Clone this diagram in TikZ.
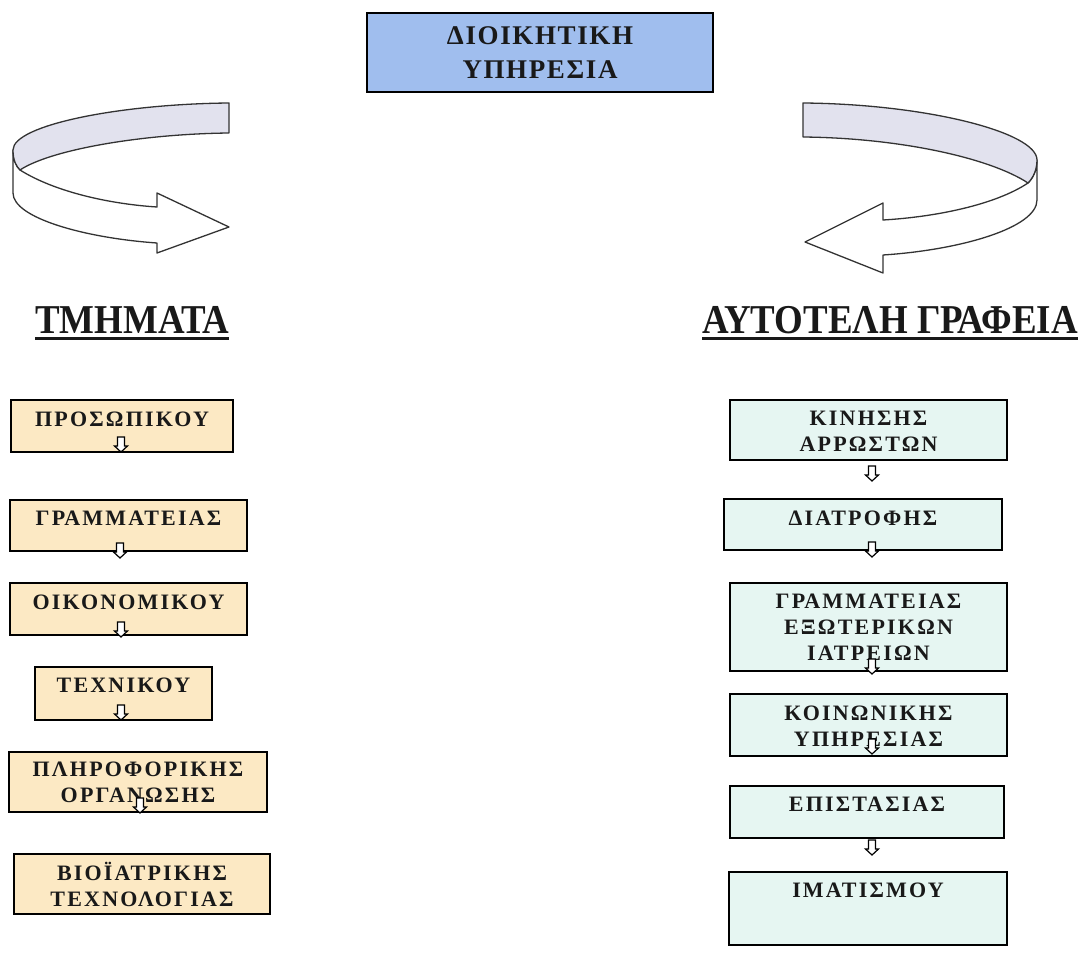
\documentclass[tikz,border=0pt]{standalone}
\usepackage{fontspec}
\setmainfont{Liberation Serif}
\newfontfamily\boxfont[LetterSpace=10]{Liberation Serif}
\newfontfamily\topfont[LetterSpace=6]{Liberation Serif}
\newfontfamily\headfont[FakeStretch=0.9]{Liberation Serif}
\definecolor{topfill}{RGB}{160,190,238}
\definecolor{peach}{RGB}{252,233,196}
\definecolor{mint}{RGB}{230,246,242}
\definecolor{band}{RGB}{226,226,238}
\begin{document}
\begin{tikzpicture}[x=1pt,y=-1pt,
  box/.style={draw=black, line width=1.6pt, rectangle, inner sep=0pt},
  lbox/.style={box, fill=peach},
  rbox/.style={box, fill=mint},
  btext/.style={font={\boxfont\bfseries\fontsize{22}{26}\selectfont}, align=center, inner sep=0pt, text=black!90},
  headtext/.style={font={\headfont\bfseries\fontsize{41}{44}\selectfont}, inner sep=0pt, text=black!90},
  ribbon/.style={draw=black!80, line width=1.3pt, line join=round},
  pics/darr/.style={code={
    \draw[line width=1.2pt, fill=white, line join=miter]
      (-3.5,0) -- (-3.5,9) -- (-6.5,9) -- (0,15) -- (6.5,9) -- (3.5,9) -- (3.5,0) -- cycle;}}
]
\useasboundingbox (0,0) rectangle (1082,968);

% administration box
\node[box, fill=topfill, minimum width=346pt, minimum height=79pt,
      font={\topfont\bfseries\fontsize{27}{34}\selectfont}, align=center, text=black!90]
  (admin) at (540,52.5) {ΔΙΟΙΚΗΤΙΚΗ\\ΥΠΗΡΕΣΙΑ};

% left ribbon arrow
\draw[ribbon, fill=white]
  (20,170) .. controls (55,192) and (110,204) .. (157,207) -- (157,193) -- (229,227)
  -- (157,253) -- (157,243) .. controls (85,238) and (13,218) .. (13,193)
  -- (13,150) .. controls (13,160) and (16,166) .. (20,170) -- cycle;
\draw[ribbon, fill=band]
  (229,103) .. controls (120,104) and (13,125) .. (13,150)
  .. controls (13,160) and (16,166) .. (20,170)
  .. controls (50,150) and (140,134) .. (229,133) -- cycle;

% right ribbon arrow
\draw[ribbon, fill=white]
  (1028,183) .. controls (995,205) and (935,217) .. (883,220) -- (883,203) -- (805,242)
  -- (883,273) -- (883,255) .. controls (960,250) and (1037,228) .. (1037,200)
  -- (1037,160) .. controls (1037,170) and (1033,178) .. (1028,183) -- cycle;
\draw[ribbon, fill=band]
  (803,103) .. controls (925,104) and (1037,132) .. (1037,160)
  .. controls (1037,170) and (1033,178) .. (1028,183)
  .. controls (990,158) and (900,138) .. (803,137) -- cycle;

% headings
\node[headtext, anchor=base west] (hl) at (35,334) {ΤΜΗΜΑΤΑ};
\node[headtext, anchor=base east] (hr) at (1078,334) {ΑΥΤΟΤΕΛΗ ΓΡΑΦΕΙΑ};
\draw[line width=3pt, black!90] ([yshift=-5pt]hl.base west) -- ([yshift=-5pt]hl.base east);
\draw[line width=3pt, black!90] ([yshift=-5pt]hr.base west) -- ([yshift=-5pt]hr.base east);

% departments
\node[lbox, minimum width=222pt, minimum height=52pt] (l1) at (122,426) {};
\node[btext] (l1t) at (122,419) {ΠΡΟΣΩΠΙΚΟΥ};
\pic (l1a) at (121,437) {darr};

\node[lbox, minimum width=237pt, minimum height=51pt] (l2) at (128.5,525.5) {};
\node[btext] (l2t) at (128.5,518) {ΓΡΑΜΜΑΤΕΙΑΣ};
\pic (l2a) at (120,543) {darr};

\node[lbox, minimum width=237pt, minimum height=52pt] (l3) at (128.5,609) {};
\node[btext] (l3t) at (128.5,602) {ΟΙΚΟΝΟΜΙΚΟΥ};
\pic (l3a) at (121,622) {darr};

\node[lbox, minimum width=177pt, minimum height=53pt] (l4) at (123.5,693.5) {};
\node[btext] (l4t) at (123.5,685) {ΤΕΧΝΙΚΟΥ};
\pic (l4a) at (121,705) {darr};

\node[lbox, minimum width=258pt, minimum height=60pt] (l5) at (138,782) {};
\node[btext] (l5t) at (138,782.5) {ΠΛΗΡΟΦΟΡΙΚΗΣ\\ΟΡΓΑΝΩΣΗΣ};
\pic (l5a) at (140,798) {darr};

\node[lbox, minimum width=256pt, minimum height=60pt] (l6) at (142,884) {};
\node[btext] (l6t) at (142,884) {ΒΙΟΪΑΤΡΙΚΗΣ\\ΤΕΧΝΟΛΟΓΙΑΣ};

% independent offices
\node[rbox, minimum width=277pt, minimum height=60pt] (r1) at (868.5,430) {};
\node[btext] (r1t) at (868.5,431) {ΚΙΝΗΣΗΣ\\ΑΡΡΩΣΤΩΝ};
\pic (r1a) at (872,466) {darr};

\node[rbox, minimum width=278pt, minimum height=51pt] (r2) at (863,524.5) {};
\node[btext] (r2t) at (863,518) {ΔΙΑΤΡΟΦΗΣ};
\pic (r2a) at (872,542) {darr};

\node[rbox, minimum width=277pt, minimum height=88pt] (r3) at (868.5,627) {};
\node[btext] (r3t) at (868.5,627.5) {ΓΡΑΜΜΑΤΕΙΑΣ\\ΕΞΩΤΕΡΙΚΩΝ\\ΙΑΤΡΕΙΩΝ};
\pic (r3a) at (872,659) {darr};

\node[rbox, minimum width=277pt, minimum height=62pt] (r4) at (868.5,725) {};
\node[btext] (r4t) at (868.5,726) {ΚΟΙΝΩΝΙΚΗΣ\\ΥΠΗΡΕΣΙΑΣ};
\pic (r4a) at (872,739) {darr};

\node[rbox, minimum width=274pt, minimum height=52pt] (r5) at (867,812) {};
\node[btext] (r5t) at (867,804) {ΕΠΙΣΤΑΣΙΑΣ};
\pic (r5a) at (872,840) {darr};

\node[rbox, minimum width=278pt, minimum height=73pt] (r6) at (868,908.5) {};
\node[btext] (r6t) at (868,890) {ΙΜΑΤΙΣΜΟΥ};
\end{tikzpicture}
\end{document}
